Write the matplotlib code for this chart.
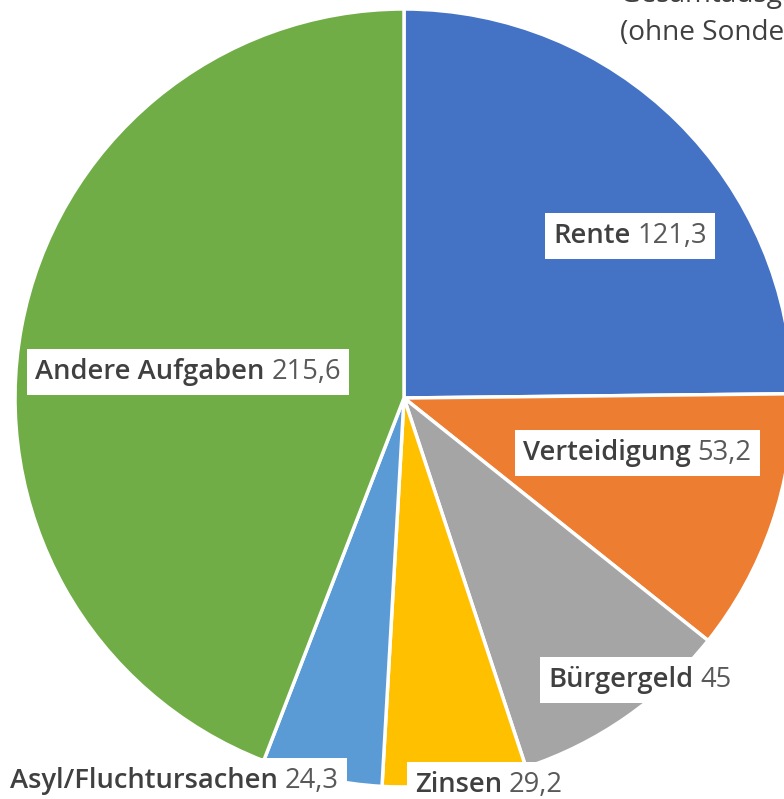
import matplotlib
matplotlib.use("Agg")
import matplotlib.pyplot as plt
from matplotlib.patches import Rectangle

# Data
categories = ["Rente", "Verteidigung", "Bürgergeld", "Zinsen", "Asyl/Fluchtursachen", "Andere Aufgaben"]
values = [121.3, 53.2, 45, 29.2, 24.3, 215.6]
value_labels = ["121,3", "53,2", "45", "29,2", "24,3", "215,6"]
colors = ["#4472C4", "#ED7D31", "#A5A5A5", "#FFC000", "#5B9BD5", "#70AD47"]

# label anchor positions in pixel coords (left x, center y from top)
label_pos = [(553, 236), (523, 453), (548, 680), (415, 785), (10, 781), (35, 372)]

W, H = 784, 799
fig = plt.figure(figsize=(W / 100, H / 100), dpi=100)
ax = fig.add_axes([0, 0, 1, 1])

cx, cy, r = 404, H - 398, 389
ax.pie(values, colors=colors, startangle=90, counterclock=False,
       center=(cx, cy), radius=r, frame=True,
       wedgeprops=dict(edgecolor="white", linewidth=2.5))
ax.set_xlim(0, W)
ax.set_ylim(0, H)
ax.set_aspect("equal")
ax.axis("off")

plt.rcParams["font.family"] = ["Open Sans", "DejaVu Sans"]
fs = 19.7
fig.canvas.draw()
renderer = fig.canvas.get_renderer()

for name, val, (lx, ly) in zip(categories, value_labels, label_pos):
    y = H - ly
    t1 = ax.text(lx, y, name, fontsize=fs, fontweight="semibold", color="#404040",
                 va="center", ha="left", zorder=5)
    bb1 = t1.get_window_extent(renderer)
    t2 = ax.text(bb1.x1 + 7, y, val, fontsize=fs, color="#595959",
                 va="center", ha="left", zorder=5)
    bb2 = t2.get_window_extent(renderer)
    padx, pady = 8, 23
    rect = Rectangle((lx - padx, y - pady), (bb2.x1 - lx) + 2 * padx, 2 * pady,
                     facecolor="white", edgecolor="none", zorder=4)
    ax.add_patch(rect)

# Cropped title at top right
ax.text(620, H + 5, "Gesamtausgaben 488,6 Mrd. €", fontsize=fs + 0.5, color="#404040",
        va="center", ha="left", zorder=6)
ax.text(620, H - 33, "(ohne Sondervermögen)", fontsize=fs + 0.5, color="#404040",
        va="center", ha="left", zorder=6)

fig.savefig("out.png", dpi=100)
